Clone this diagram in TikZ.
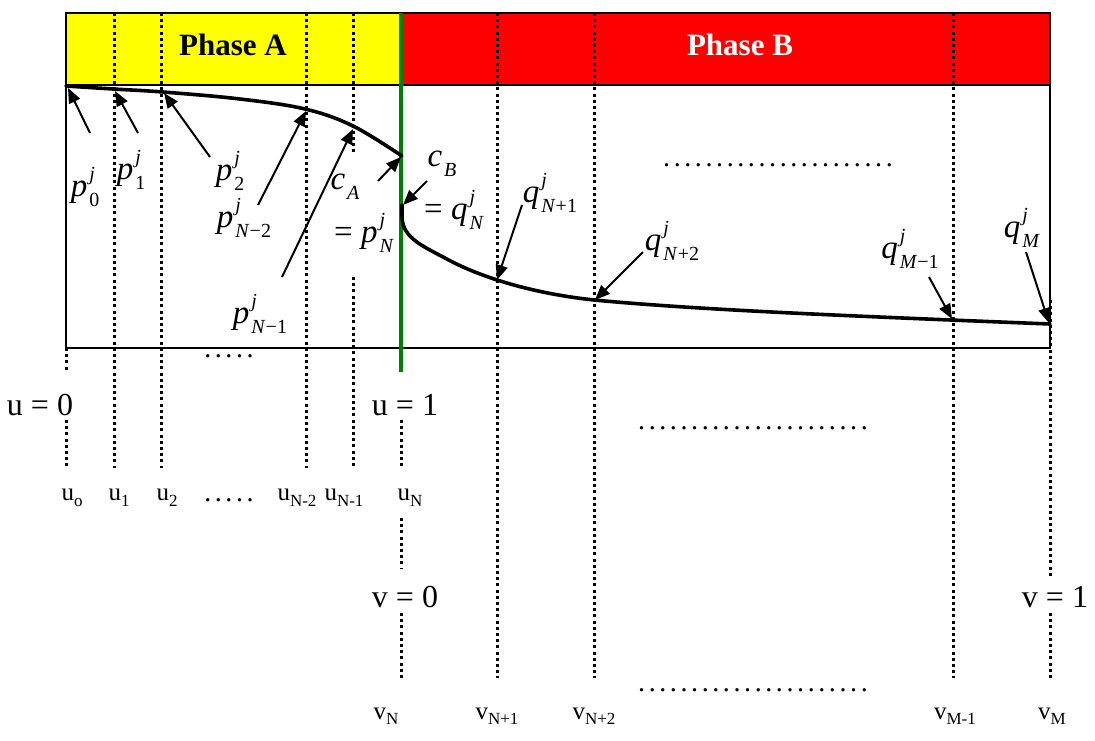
\documentclass[tikz,border=0pt]{standalone}
\usepackage{fontspec}
\setmainfont{Liberation Serif}
\usepackage{tikz}
\usetikzlibrary{arrows.meta}
\definecolor{cAmar}{HTML}{FFFF00}
\definecolor{cVerm}{HTML}{FF0000}
\definecolor{cVerde}{HTML}{008000}
\newcommand{\fsz}[1]{\fontsize{#1}{#1}\selectfont}
\newcommand{\pq}[3]{\textit{#1}\kern2pt\rlap{\raisebox{0.47em}{\fsz{20}\textit{#2}}}\raisebox{-0.3em}{\fsz{20}#3}}
\newcommand{\cx}[2]{\textit{#1}\kern2pt\raisebox{-0.3em}{\fsz{20}\textit{#2}}}
\newcommand{\sbx}[1]{\raisebox{-0.22em}{\fsz{17}#1}}
\newcommand{\pontos}[1]{\foreach \k in {1,...,#1}{\makebox[10.6pt]{.}}}

\begin{document}
\begin{tikzpicture}[
  x=1pt,y=-1pt,
  lbl/.style={inner sep=0pt,font=\fsz{32}},
  var/.style={inner sep=0pt,font=\fsz{33}},
  idx/.style={inner sep=0pt,font=\fsz{25}},
  dots/.style={inner sep=0pt,font=\fsz{28}},
  fase/.style={inner sep=0pt,font=\fsz{31}\bfseries},
  grade/.style={line width=3pt,dash pattern=on 3pt off 3.2pt},
  borda/.style={line width=1.6pt},
  curva/.style={line width=3.6pt,line cap=round},
  ar/.style={-{Triangle[length=15pt,width=12pt]},line width=2pt}
]
\useasboundingbox (0,0) rectangle (1095,740);

% ---- faixas das fases
\fill[cAmar] (66,13) rectangle (401,85);
\fill[cVerm] (401,13) rectangle (1050,85);
\node[fase] (fA) at (233,45) {Phase A};
\node[fase,text=white] (fB) at (740,45) {Phase B};

% ---- linhas da grade
\foreach \x in {114,161,306} \draw[grade] (\x,13) -- (\x,468);
\foreach \x in {497,594,953} \draw[grade] (\x,13) -- (\x,678);
\draw[grade] (353,13) -- (353,155) (353,277) -- (353,468);
\draw[grade] (66,348) -- (66,372) (66,420) -- (66,468);
\draw[grade] (401,420) -- (401,468) (401,518) -- (401,568) (401,613) -- (401,678);
\draw[grade] (1050,300) -- (1050,578) (1050,613) -- (1050,678);

% ---- caixa
\draw[borda] (66,13) rectangle (1050,348);
\draw[borda] (66,85) -- (1050,85);
\draw[cVerde,line width=4pt] (401,13) -- (401,372);

% ---- curvas
\draw[curva] plot[smooth,tension=0.6] coordinates
  {(66,86) (113,89) (163,92) (240,99) (305,109) (353,126) (402,156)};
\draw[curva] (402,205) -- (402,216) .. controls (402,236) and (418,244) .. (445,258)
  .. controls (470,272) and (520,292) .. (594,300)
  .. controls (700,310) and (850,316) .. (1050,324);

% ---- pontos
\coordinate (hP0) at (68,88);   \coordinate (tP0) at (90,133);
\coordinate (hP1) at (115,91);  \coordinate (tP1) at (138,133);
\coordinate (hP2) at (164,93);  \coordinate (tP2) at (210,157);
\coordinate (hPa) at (306,111); \coordinate (tPa) at (258,205);
\coordinate (hPb) at (353,129); \coordinate (tPb) at (282,277);
\coordinate (hCA) at (401,157); \coordinate (tCA) at (378,181);
\coordinate (hCB) at (403,205); \coordinate (tCB) at (427,181);
\coordinate (hQ1) at (497,280); \coordinate (tQ1) at (522,205);
\coordinate (hQ2) at (595,300); \coordinate (tQ2) at (643,252);
\coordinate (hQa) at (952,319); \coordinate (tQa) at (929,277);
\coordinate (hQM) at (1049,323); \coordinate (tQM) at (1026,252);

% ---- setas
\draw[ar] (tP0) -- (hP0);
\draw[ar] (tP1) -- (hP1);
\draw[ar] (tP2) -- (hP2);
\draw[ar] (tPa) -- (hPa);
\draw[ar] (tPb) -- (hPb);
\draw[ar] (tCA) -- (hCA);
\draw[ar] (tCB) -- (hCB);
\draw[ar] (tQ1) -- (hQ1);
\draw[ar] (tQ2) -- (hQ2);
\draw[ar] (tQa) -- (hQa);
\draw[ar] (tQM) -- (hQM);

% ---- rotulos da curva
\node[var] (lP0) at (85,187) {\pq{p}{j}{0}};
\node[var] (lP1) at (131,170) {\pq{p}{j}{1}};
\node[var] (lP2) at (230,171) {\pq{p}{j}{2}};
\node[var] (lPa) at (244,218) {\pq{p}{j}{\textit{N}−2}};
\node[var] (lPb) at (260,314) {\pq{p}{j}{\textit{N}−1}};
\node[var] (lCA) at (345,187) {\cx{c}{A}};
\node[var] (lPN) at (364,233) {= \pq{p}{j}{\textit{N}}};
\node[var] (lCB) at (442,164) {\cx{c}{B}};
\node[var] (lQN) at (454,210) {= \pq{q}{j}{\textit{N}}};
\node[var] (lQ1) at (550,193) {\pq{q}{j}{\textit{N}+1}};
\node[var] (lQ2) at (672,241) {\pq{q}{j}{\textit{N}+2}};
\node[var] (lQa) at (910,249) {\pq{q}{j}{\textit{M}−1}};
\node[var] (lQM) at (1022,228) {\pq{q}{j}{\textit{M}}};

% ---- reticencias
\node[dots] (d1) at (778,165) {\pontos{22}};
\node[dots] (d2) at (229,356) {\pontos{5}};
\node[dots] (d3) at (229,500) {\pontos{5}};
\node[dots] (d4) at (753,428) {\pontos{22}};
\node[dots] (d5) at (753,690) {\pontos{22}};

% ---- eixos u e v
\node[lbl] (u0) at (40,405) {u = 0};
\node[lbl] (u1) at (405,405) {u = 1};
\node[lbl] (v0) at (405,597) {v = 0};
\node[lbl] (v1) at (1055,597) {v = 1};

\node[idx] (nu0) at (72,498) {u\sbx{o}};
\node[idx] (nu1) at (119,498) {u\sbx{1}};
\node[idx] (nu2) at (167,498) {u\sbx{2}};
\node[idx] (nua) at (297,498) {u\sbx{N-2}};
\node[idx] (nub) at (344,498) {u\sbx{N-1}};
\node[idx] (nuN) at (410,498) {u\sbx{N}};

\node[idx] (nvN) at (386,716) {v\sbx{N}};
\node[idx] (nv1) at (497,716) {v\sbx{N+1}};
\node[idx] (nv2) at (594,716) {v\sbx{N+2}};
\node[idx] (nva) at (955,716) {v\sbx{M-1}};
\node[idx] (nvM) at (1052,716) {v\sbx{M}};
\end{tikzpicture}
\end{document}
